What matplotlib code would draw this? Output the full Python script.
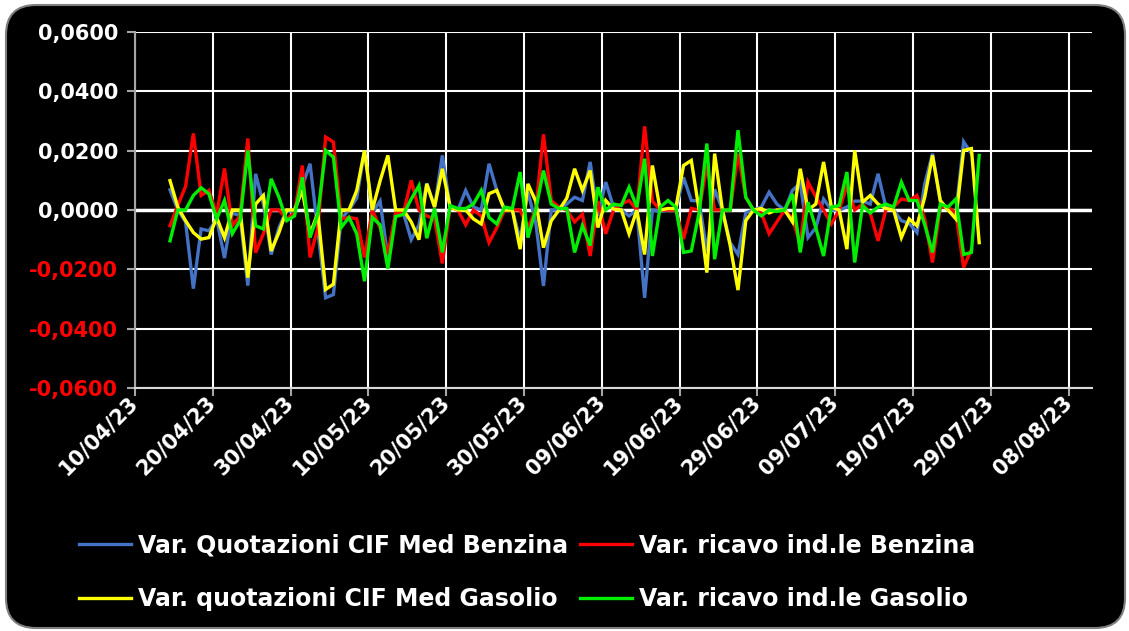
import numpy as np
import pandas as pd
import matplotlib
matplotlib.use("Agg")
import matplotlib.pyplot as plt
import matplotlib.transforms as mtransforms
from matplotlib.patches import FancyBboxPatch

# ==========================
# Dati (variazioni giornaliere)
# ==========================
dates = pd.date_range("2023-04-14 12:00", "2023-07-27 12:00", freq="D")

quot_benzina = [
    0.0068, 0.0000, -0.0040, -0.0265, -0.0064, -0.0070, -0.0030, -0.0162, -0.0010, -0.0020,
    -0.0255, 0.0122, 0.0020, -0.0150, -0.0060, 0.0000, -0.0010, 0.0080, 0.0156, -0.0070,
    -0.0296, -0.0285, -0.0030, 0.0000, 0.0040, 0.0200, -0.0010, 0.0030, -0.0160, -0.0010,
    -0.0010, -0.0100, -0.0050, 0.0090, 0.0010, 0.0184, 0.0010, 0.0000, 0.0066, 0.0010,
    0.0000, 0.0156, 0.0066, 0.0000, 0.0000, -0.0100, 0.0060, -0.0040, -0.0256, 0.0000,
    0.0000, 0.0020, 0.0043, 0.0032, 0.0162, -0.0020, 0.0094, 0.0010, 0.0000, -0.0020,
    0.0000, -0.0296, 0.0000, -0.0005, 0.0000, 0.0000, 0.0110, 0.0032, 0.0030, -0.0140,
    0.0070, 0.0000, -0.0110, -0.0150, -0.0010, 0.0000, 0.0010, 0.0060, 0.0020, 0.0000,
    0.0066, 0.0090, -0.0093, -0.0060, 0.0037, 0.0000, 0.0000, 0.0010, 0.0030, 0.0030,
    0.0020, 0.0122, 0.0010, 0.0000, -0.0036, -0.0045, -0.0076, 0.0088, 0.0190, 0.0030,
    0.0000, -0.0010, 0.0230, 0.0190, np.nan,
]

ricavo_benzina = [
    -0.0053, 0.0015, 0.0080, 0.0258, 0.0049, 0.0066, -0.0014, 0.0140, -0.0053, -0.0020,
    0.0241, -0.0144, -0.0080, 0.0000, 0.0000, -0.0030, -0.0010, 0.0150, -0.0160, -0.0060,
    0.0246, 0.0229, -0.0030, -0.0025, -0.0030, -0.0160, 0.0000, -0.0060, -0.0150, -0.0010,
    -0.0010, 0.0100, 0.0000, -0.0020, -0.0030, -0.0180, 0.0010, 0.0000, -0.0050, 0.0000,
    -0.0020, -0.0110, -0.0060, 0.0000, 0.0000, 0.0000, -0.0060, 0.0000, 0.0255, 0.0032,
    0.0010, 0.0000, -0.0040, -0.0014, -0.0155, 0.0030, -0.0080, 0.0000, 0.0020, 0.0032,
    0.0000, 0.0282, 0.0030, 0.0000, 0.0000, 0.0000, -0.0098, 0.0005, 0.0000, 0.0150,
    0.0000, 0.0000, 0.0000, 0.0190, 0.0043, 0.0000, -0.0010, -0.0080, -0.0040, 0.0000,
    -0.0030, -0.0115, 0.0094, 0.0045, 0.0000, -0.0047, 0.0000, 0.0080, 0.0000, 0.0020,
    -0.0010, -0.0104, 0.0000, 0.0010, 0.0037, 0.0032, 0.0049, -0.0030, -0.0177, 0.0010,
    0.0010, -0.0010, -0.0194, -0.0132, np.nan,
]

quot_gasolio = [
    0.0099, 0.0010, -0.0036, -0.0076, -0.0098, -0.0093, -0.0025, -0.0093, 0.0000, 0.0000,
    -0.0228, 0.0020, 0.0049, -0.0138, -0.0076, 0.0000, 0.0000, 0.0066, -0.0080, -0.0010,
    -0.0268, -0.0250, 0.0000, 0.0000, 0.0066, 0.0201, 0.0000, 0.0098, 0.0184, 0.0000,
    0.0000, -0.0040, -0.0100, 0.0088, 0.0010, 0.0139, 0.0010, 0.0000, 0.0000, -0.0030,
    -0.0047, 0.0055, 0.0066, 0.0000, 0.0000, -0.0132, 0.0088, 0.0030, -0.0127, -0.0036,
    0.0000, 0.0040, 0.0139, 0.0066, 0.0133, -0.0059, 0.0032, 0.0003, 0.0000, -0.0080,
    0.0000, -0.0150, 0.0150, 0.0000, 0.0005, 0.0005, 0.0150, 0.0167, 0.0000, -0.0211,
    0.0190, 0.0000, -0.0120, -0.0270, -0.0036, 0.0000, 0.0005, -0.0010, 0.0000, 0.0000,
    -0.0040, 0.0139, 0.0000, 0.0020, 0.0162, 0.0010, 0.0000, -0.0132, 0.0201, 0.0026,
    0.0049, 0.0020, 0.0005, 0.0000, -0.0093, -0.0030, -0.0053, 0.0043, 0.0184, 0.0032,
    0.0000, -0.0030, 0.0201, 0.0207, -0.0110,
]

ricavo_gasolio = [
    -0.0104, 0.0000, 0.0000, 0.0049, 0.0075, 0.0054, -0.0030, 0.0032, -0.0080, -0.0036,
    0.0201, -0.0053, -0.0064, 0.0105, 0.0043, -0.0036, -0.0020, 0.0110, -0.0093, -0.0014,
    0.0201, 0.0178, -0.0059, -0.0025, -0.0080, -0.0240, -0.0025, -0.0050, -0.0198, -0.0022,
    -0.0015, 0.0037, 0.0082, -0.0095, 0.0005, -0.0143, 0.0015, 0.0005, 0.0005, 0.0020,
    0.0066, -0.0025, -0.0047, 0.0010, 0.0005, 0.0128, -0.0093, 0.0000, 0.0133, 0.0020,
    0.0005, 0.0005, -0.0143, -0.0053, -0.0120, 0.0077, 0.0000, 0.0020, 0.0015, 0.0077,
    0.0010, 0.0173, -0.0155, 0.0010, 0.0032, 0.0010, -0.0143, -0.0138, -0.0010, 0.0224,
    -0.0166, 0.0000, 0.0000, 0.0269, 0.0043, 0.0000, -0.0020, 0.0000, -0.0005, 0.0000,
    0.0054, -0.0143, 0.0026, -0.0060, -0.0155, 0.0010, 0.0015, 0.0128, -0.0177, 0.0015,
    -0.0010, 0.0010, 0.0020, 0.0010, 0.0094, 0.0032, 0.0032, -0.0050, -0.0143, 0.0020,
    0.0010, 0.0037, -0.0150, -0.0143, 0.0184,
]

labels = ["Var. Quotazioni CIF Med Benzina", "Var. ricavo ind.le Benzina",
          "Var. quotazioni CIF Med Gasolio", "Var. ricavo ind.le Gasolio"]
colori = ["#4472C4", "#FF0000", "#FFFF00", "#00EE00"]

yticks = [-0.06, -0.04, -0.02, 0.0, 0.02, 0.04, 0.06]
xticks = pd.date_range("2023-04-10", "2023-08-08", freq="10D")

# ==========================
# Figura
# ==========================
fig = plt.figure(figsize=(11.29, 6.31), dpi=100, facecolor="white")

sfondo = FancyBboxPatch((0.06, 0.03), 11.19, 6.23,
                        boxstyle="round,pad=0,rounding_size=0.3",
                        transform=fig.dpi_scale_trans, facecolor="black",
                        edgecolor="#7F7F7F", lw=1.5, zorder=-10)
fig.patches.append(sfondo)

ax = fig.add_axes([135/1129, 1-388/631, (1092-135)/1129, (388-32)/631])
ax.set_facecolor("black")

linee = []
for serie, col, lab in zip([quot_benzina, ricavo_benzina, quot_gasolio, ricavo_gasolio],
                           colori, labels):
    l, = ax.plot(dates, serie, color=col, lw=2.4, label=lab, zorder=3,
                 solid_joinstyle="miter")
    linee.append(l)

ax.set_ylim(-0.06, 0.06)
ax.set_xlim(pd.Timestamp("2023-04-10"), pd.Timestamp("2023-08-11"))

ax.set_yticks(yticks)
ax.set_yticklabels([f"{v:.4f}".replace(".", ",") for v in yticks],
                   fontsize=15, fontweight="bold")
for t, v in zip(ax.get_yticklabels(), yticks):
    t.set_color("#FF0000" if v < 0 else "white")

ax.set_xticks(xticks)
ax.set_xticklabels([d.strftime("%d/%m/%y") for d in xticks], rotation=45,
                   ha="right", va="center", rotation_mode="anchor",
                   fontsize=15, fontweight="bold", color="white")
sposta = mtransforms.ScaledTranslation(5/100, 0, fig.dpi_scale_trans)
for t in ax.get_xticklabels():
    t.set_transform(t.get_transform() + sposta)

ax.tick_params(axis="both", color="#A6A6A6", length=6, width=1.5)
ax.tick_params(axis="y", pad=6)
ax.tick_params(axis="x", pad=2)

ax.grid(True, color="white", lw=1.5, zorder=1)
ax.axhline(0, color="white", lw=2.5, zorder=2)
for s in ["top", "right"]:
    ax.spines[s].set_visible(False)
ax.spines["left"].set_color("#A6A6A6")
ax.spines["left"].set_linewidth(1.5)
ax.spines["bottom"].set_color("#D9D9D9")
ax.spines["bottom"].set_linewidth(1.5)

# legenda: riga 1 benzina, riga 2 gasolio
ordine = [0, 2, 1, 3]
leg = fig.legend([linee[i] for i in ordine], [labels[i] for i in ordine],
                 ncol=2, loc="center", bbox_to_anchor=(0.467, 0.093),
                 frameon=False, handlelength=2.2, handletextpad=0.3,
                 columnspacing=0.5, labelspacing=1.25,
                 prop={"size": 17, "weight": "bold"})
for t in leg.get_texts():
    t.set_color("white")

fig.savefig("out.png", dpi=100, facecolor="white")
